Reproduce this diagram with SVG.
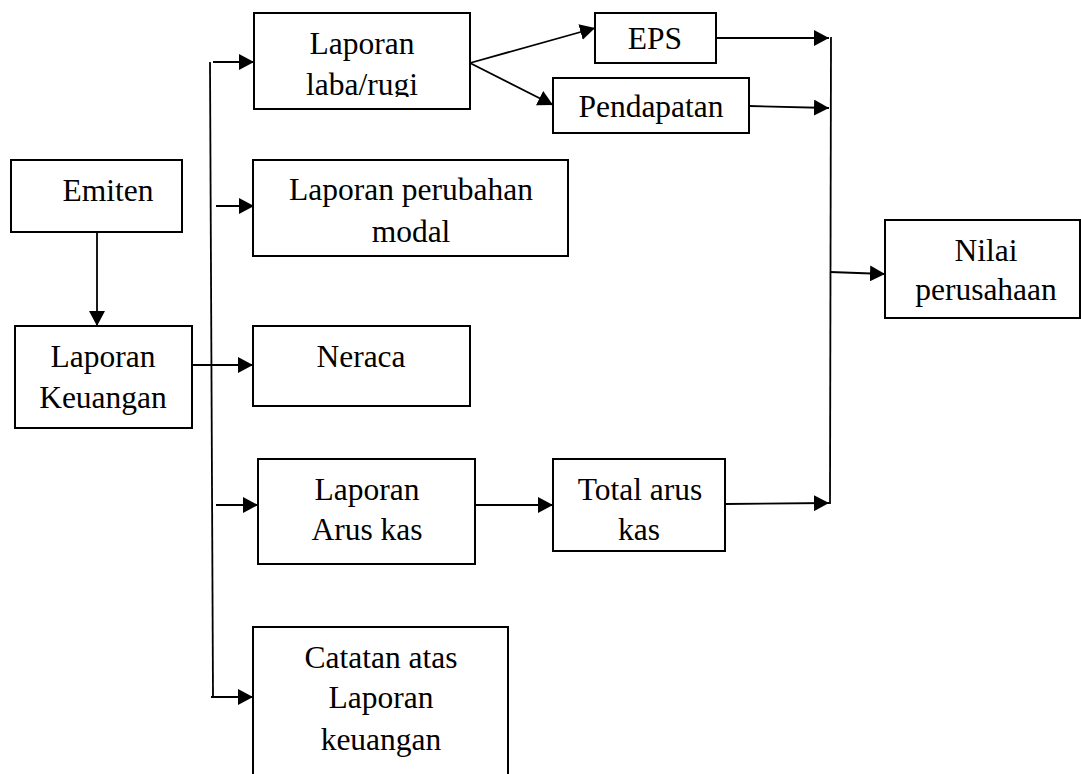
<svg xmlns="http://www.w3.org/2000/svg" width="1081" height="774" viewBox="0 0 1081 774">
<style>
.box{fill:#fff;stroke:#000;stroke-width:2}
.t{font-family:"Liberation Serif","Times New Roman",serif;font-size:31.5px;fill:#000;text-anchor:middle}
.c{fill:none;stroke:#000;stroke-width:1.8}
</style>
<defs>
<marker id="ah" markerUnits="userSpaceOnUse" markerWidth="16" markerHeight="16" refX="15" refY="8" orient="auto">
<path d="M0,0 L15,8 L0,16 Z" fill="#000"/>
</marker>
<clipPath id="clipLR"><rect x="254" y="13" width="216" height="84"/></clipPath>
</defs>
<rect width="1081" height="774" fill="#fff"/>
<g id="connectors">
<line class="c" x1="210" y1="62" x2="213" y2="697"/>
<line class="c" x1="97" y1="232" x2="97" y2="326" marker-end="url(#ah)"/>
<line class="c" x1="213" y1="62" x2="254" y2="62" marker-end="url(#ah)"/>
<line class="c" x1="216" y1="206" x2="254" y2="206" marker-end="url(#ah)"/>
<line class="c" x1="192" y1="365" x2="253" y2="365" marker-end="url(#ah)"/>
<line class="c" x1="216" y1="505" x2="258" y2="505" marker-end="url(#ah)"/>
<line class="c" x1="211" y1="697" x2="253" y2="697" marker-end="url(#ah)"/>
<line class="c" x1="470" y1="63" x2="595" y2="28" marker-end="url(#ah)"/>
<line class="c" x1="470" y1="63" x2="553" y2="105" marker-end="url(#ah)"/>
<line class="c" x1="716" y1="38" x2="829" y2="38" marker-end="url(#ah)"/>
<line class="c" x1="749" y1="106" x2="829" y2="108" marker-end="url(#ah)"/>
<line class="c" x1="475" y1="505" x2="553" y2="505" marker-end="url(#ah)"/>
<line class="c" x1="725" y1="504" x2="829" y2="503" marker-end="url(#ah)"/>
<line class="c" x1="831" y1="37" x2="830" y2="504"/>
<line class="c" x1="830" y1="272" x2="885" y2="274" marker-end="url(#ah)"/>
</g>
<g id="emiten">
<rect class="box" x="11" y="160" width="171" height="72"/>
<text class="t" x="108" y="201">Emiten</text>
</g>
<g id="laporan-keuangan">
<rect class="box" x="15" y="326" width="177" height="102"/>
<text class="t" x="103" y="367">Laporan</text>
<text class="t" x="103" y="408">Keuangan</text>
</g>
<g id="laba-rugi">
<rect class="box" x="254" y="13" width="216" height="96"/>
<g clip-path="url(#clipLR)">
<text class="t" x="362" y="54">Laporan</text>
<text class="t" x="362" y="95">laba/rugi</text>
</g>
</g>
<g id="perubahan-modal">
<rect class="box" x="253" y="160" width="315" height="96"/>
<text class="t" x="411" y="200">Laporan perubahan</text>
<text class="t" x="411" y="242">modal</text>
</g>
<g id="neraca">
<rect class="box" x="253" y="326" width="217" height="80"/>
<text class="t" x="361" y="367">Neraca</text>
</g>
<g id="arus-kas">
<rect class="box" x="258" y="459" width="217" height="105"/>
<text class="t" x="367" y="500">Laporan</text>
<text class="t" x="367" y="540">Arus kas</text>
</g>
<g id="catatan">
<rect class="box" x="253" y="627" width="255" height="160"/>
<text class="t" x="381" y="668">Catatan atas</text>
<text class="t" x="381" y="708">Laporan</text>
<text class="t" x="381" y="750">keuangan</text>
</g>
<g id="eps">
<rect class="box" x="595" y="13" width="121" height="50"/>
<text class="t" x="655" y="49">EPS</text>
</g>
<g id="pendapatan">
<rect class="box" x="553" y="78" width="196" height="55"/>
<text class="t" x="651" y="117">Pendapatan</text>
</g>
<g id="total-arus-kas">
<rect class="box" x="553" y="459" width="172" height="92"/>
<text class="t" x="640" y="500">Total arus</text>
<text class="t" x="639" y="540">kas</text>
</g>
<g id="nilai-perusahaan">
<rect class="box" x="885" y="220" width="195" height="98"/>
<text class="t" x="986" y="261">Nilai</text>
<text class="t" x="986" y="300">perusahaan</text>
</g>
</svg>
